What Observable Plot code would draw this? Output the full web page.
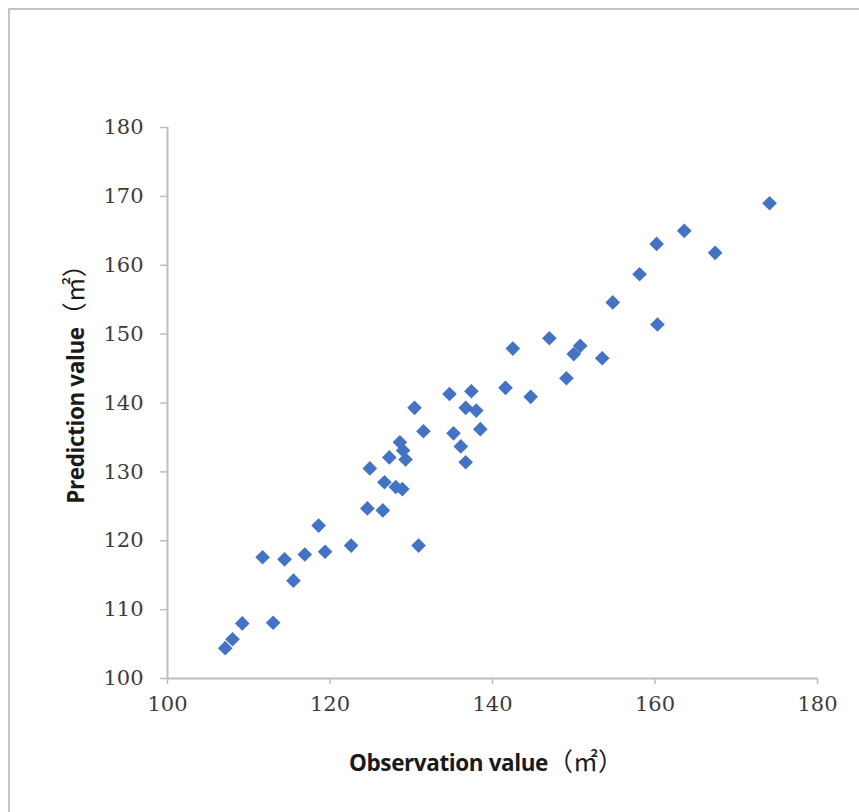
<!DOCTYPE html>
<html>
<head>
<meta charset="utf-8">
<script src="https://cdn.jsdelivr.net/npm/d3@7"></script>
<script src="https://cdn.jsdelivr.net/npm/@observablehq/plot@0.6"></script>
<style>
  html, body { margin: 0; padding: 0; background: #fff; overflow: hidden; }
  #frame { position: absolute; left: 8px; top: 8px; width: 900px; height: 900px; border: 2px solid #c4c4c4; box-sizing: border-box; }
  #chart { position: absolute; left: 0; top: 0; }
</style>
</head>
<body>
<div id="frame"></div>
<div id="chart"></div>
<script>
const observation = [107.1, 108.0, 109.2, 111.7, 113.0, 114.4, 115.5, 116.9, 118.6, 119.4,
  122.6, 124.6, 124.9, 126.5, 126.7, 127.3, 128.1, 128.9, 128.6, 129.0,
  129.3, 130.4, 130.9, 131.5, 134.7, 135.2, 136.1, 136.7, 136.7, 137.4,
  138.0, 138.5, 141.6, 142.5, 144.7, 147.0, 149.1, 150.0, 150.8, 153.5,
  154.8, 158.1, 160.2, 160.3, 163.6, 167.4, 174.1];
const prediction = [104.4, 105.7, 108.0, 117.6, 108.1, 117.3, 114.2, 118.0, 122.2, 118.4,
  119.3, 124.7, 130.5, 124.4, 128.5, 132.1, 127.8, 127.5, 134.3, 133.1,
  131.8, 139.3, 119.3, 135.9, 141.3, 135.6, 133.7, 131.4, 139.3, 141.7,
  138.9, 136.2, 142.2, 147.9, 140.9, 149.4, 143.6, 147.1, 148.3, 146.5,
  154.6, 158.7, 163.1, 151.4, 165.0, 161.8, 169.0];
const xTicks = [100, 120, 140, 160, 180];
const yTicks = [100, 110, 120, 130, 140, 150, 160, 170, 180];
const xLabelText = "Observation value";
const yLabelText = "Prediction value";
const unitText = "（㎡）";

const data = observation.map((o, i) => ({obs: o, pred: prediction[i]}));

const W = 859, H = 812;
const mL = 167, mR = 42, mT = 127, mB = 134;
const axisColor = "#bdbdbd";
const tickText = "#3c3c3c";
const labelFont = "'Open Sans', sans-serif";
const cjkFont = "'Noto Sans CJK SC', sans-serif";

const plot = Plot.plot({
  width: W,
  height: H,
  marginLeft: mL,
  marginRight: mR,
  marginTop: mT,
  marginBottom: mB,
  style: {fontFamily: "'DejaVu Serif', serif", fontSize: "21px", color: tickText, background: "transparent"},
  x: {type: "linear", domain: [100, 180]},
  y: {type: "linear", domain: [100, 180]},
  marks: [
    Plot.ruleY([100], {stroke: axisColor, strokeWidth: 2}),
    Plot.ruleX([100], {stroke: axisColor, strokeWidth: 2}),
    Plot.axisX({ticks: xTicks, tickSize: 6, tickPadding: 12, stroke: axisColor, strokeWidth: 1.5, fill: tickText, label: null, fontSize: 21}),
    Plot.axisY({ticks: yTicks, tickSize: 7, tickPadding: 17, stroke: axisColor, strokeWidth: 1.5, fill: tickText, label: null, fontSize: 21}),
    Plot.dot(data, {x: "obs", y: "pred", symbol: "diamond2", r: 6.6, fill: "#4472c4", stroke: "none"})
  ]
});
document.getElementById("chart").appendChild(plot);

const svg = d3.select(plot);
function addLabel(sel, main) {
  sel.attr("text-anchor", "middle")
    .attr("font-family", labelFont)
    .attr("font-weight", "bold")
    .attr("font-size", 22.5)
    .attr("fill", "#1a1a1a");
  sel.append("tspan").attr("letter-spacing", "-0.4").text(main);
  sel.append("tspan")
    .attr("font-family", cjkFont)
    .attr("font-weight", "normal")
    .attr("font-size", 25)
    .text(unitText);
}
addLabel(svg.append("text").attr("x", 486).attr("y", 771), xLabelText);
addLabel(svg.append("text").attr("transform", "translate(84, 378) rotate(-90)"), yLabelText);
</script>
</body>
</html>
